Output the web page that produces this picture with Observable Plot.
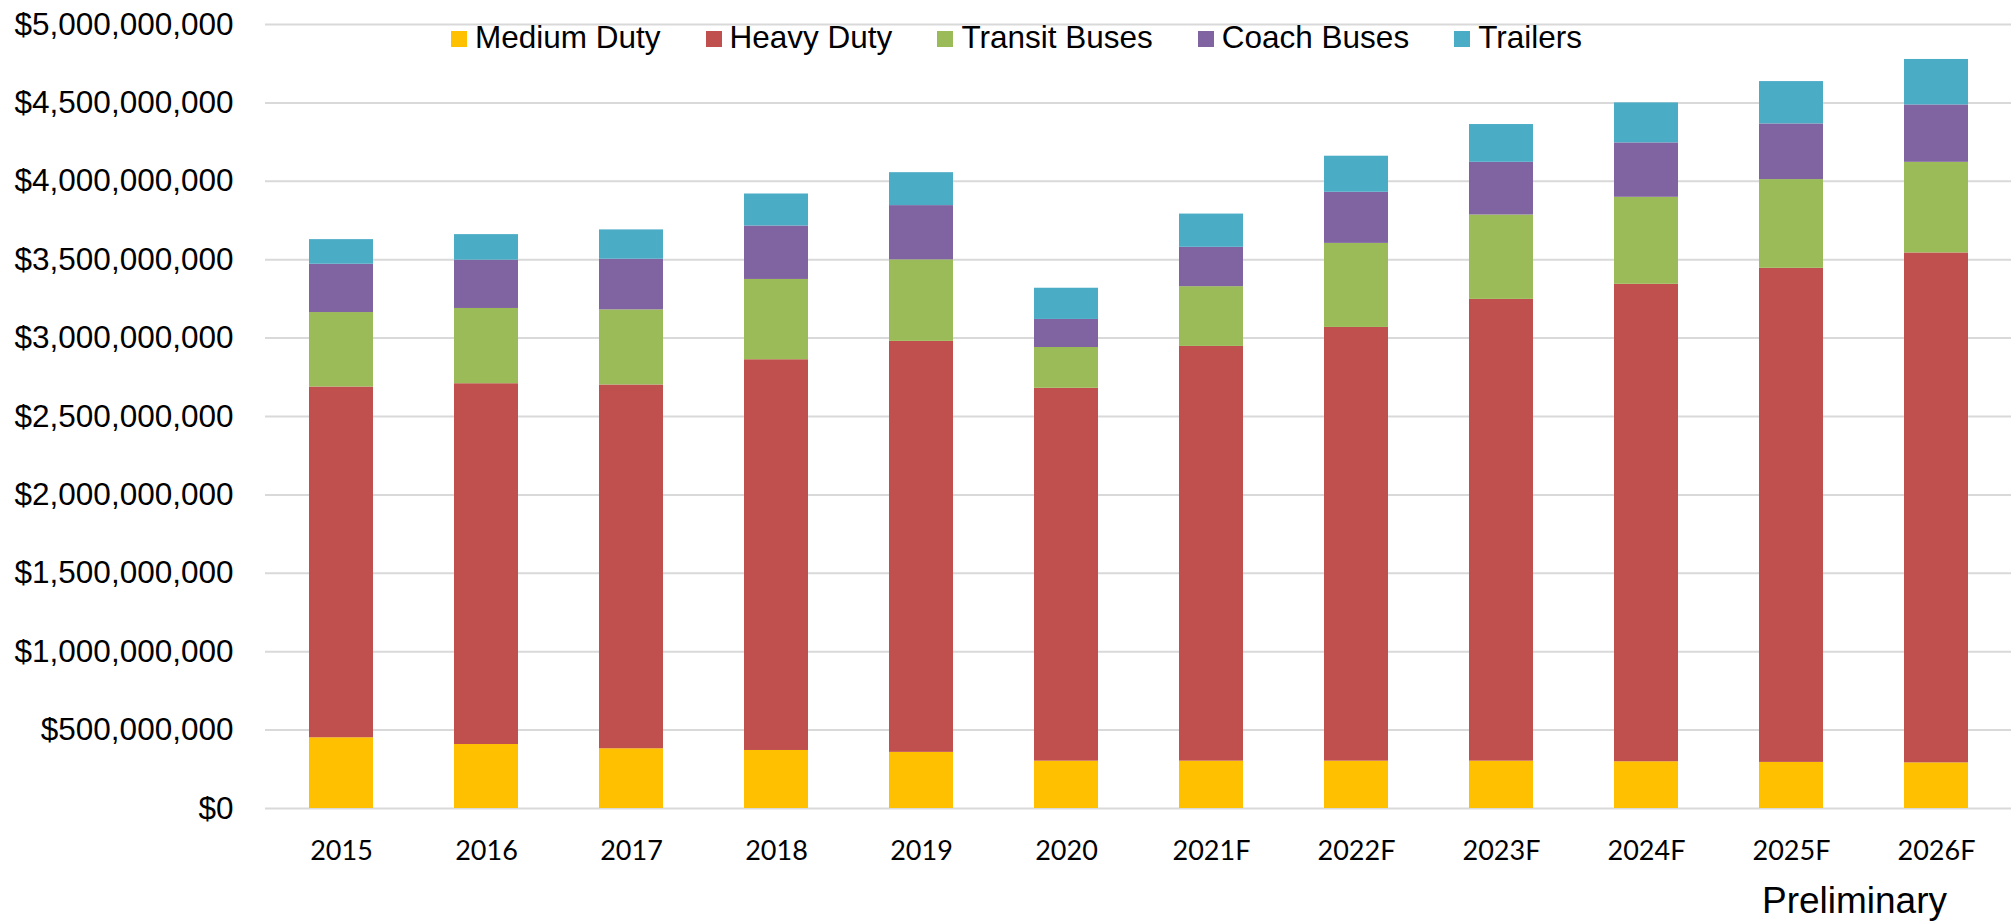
<!DOCTYPE html>
<html>
<head>
<meta charset="utf-8">
<script src="https://cdn.jsdelivr.net/npm/d3@7"></script>
<script src="https://cdn.jsdelivr.net/npm/@observablehq/plot@0.6"></script>
<style>
  body { margin: 0; background: #fff; }
  #wrap { position: relative; width: 2015px; }
  #legend { position: absolute; left: 451px; top: 22px; display: flex; gap: 45px;
            font-family: "Liberation Sans", Arial, sans-serif; font-size: 31.5px; line-height: 31.5px; color: #000; }
  .item { display: flex; align-items: center; gap: 8px; }
  .sw { width: 16px; height: 16px; position: relative; top: 1.5px; }
  #caption { height: 51px; box-sizing: border-box; padding-top: 12px; padding-right: 68px; text-align: right;
             font-family: "Liberation Sans", Arial, sans-serif; font-size: 37px; line-height: 37px; color: #000; }
</style>
</head>
<body>
<div id="wrap">
  <div id="chart"></div>
  <div id="legend"></div>
  <div id="caption">Preliminary</div>
</div>
<script>
// Categories
const years = ["2015","2016","2017","2018","2019","2020","2021F","2022F","2023F","2024F","2025F","2026F"];
const seriesNames = ["Medium Duty","Heavy Duty","Transit Buses","Coach Buses","Trailers"];
const seriesColors = ["#FFC000","#C0504D","#9BBB59","#8064A2","#4BACC6"];

// Values in millions of dollars
const mediumDuty   = [451, 408, 381, 370, 358, 302, 302, 302, 302, 298, 294, 291];
const heavyDuty    = [2237, 2301, 2320, 2492, 2621, 2378, 2645, 2766, 2945, 3045, 3151, 3252];
const transitBuses = [475, 480, 479, 512, 520, 260, 381, 536, 538, 555, 566, 578];
const coachBuses   = [308, 308, 323, 341, 346, 179, 251, 326, 336, 347, 355, 366];
const trailers     = [157, 163, 187, 204, 210, 199, 212, 230, 241, 255, 270, 290];

// Y-axis ticks
const yTicks = [0, 5e8, 1e9, 1.5e9, 2e9, 2.5e9, 3e9, 3.5e9, 4e9, 4.5e9, 5e9];

const seriesValues = [mediumDuty, heavyDuty, transitBuses, coachBuses, trailers];
const table = [];
years.forEach((yr, i) => {
  seriesNames.forEach((s, j) => {
    table.push({year: yr, series: s, value: seriesValues[j][i] * 1e6});
  });
});

const fmt = d3.format("$,.0f");

const chart = Plot.plot({
  width: 2015,
  height: 870,
  marginTop: 24,
  marginBottom: 62,
  marginLeft: 265,
  marginRight: 4,
  style: {background: "#fff", color: "#000"},
  x: {domain: years, paddingInner: 0.56, paddingOuter: 0.28, label: null},
  y: {domain: [0, 5e9], label: null},
  color: {domain: seriesNames, range: seriesColors},
  marks: [
    Plot.ruleY(yTicks, {stroke: "#d9d9d9", strokeWidth: 2}),
    Plot.barY(table, {x: "year", y: "value", fill: "series"}),
    Plot.axisX({tickSize: 0, tickPadding: 32, fontSize: 27, fontFamily: "Lato, 'Open Sans', sans-serif", label: null}),
    Plot.axisY({ticks: yTicks, tickSize: 0, tickPadding: 32, tickFormat: fmt, fontSize: 31.5,
                fontFamily: "'Liberation Sans', Arial, sans-serif", label: null})
  ]
});
document.getElementById("chart").appendChild(chart);

const legend = document.getElementById("legend");
seriesNames.forEach((s, j) => {
  const item = document.createElement("div");
  item.className = "item";
  const sw = document.createElement("div");
  sw.className = "sw";
  sw.style.background = seriesColors[j];
  const t = document.createElement("span");
  t.textContent = s;
  item.appendChild(sw);
  item.appendChild(t);
  legend.appendChild(item);
});
</script>
</body>
</html>
